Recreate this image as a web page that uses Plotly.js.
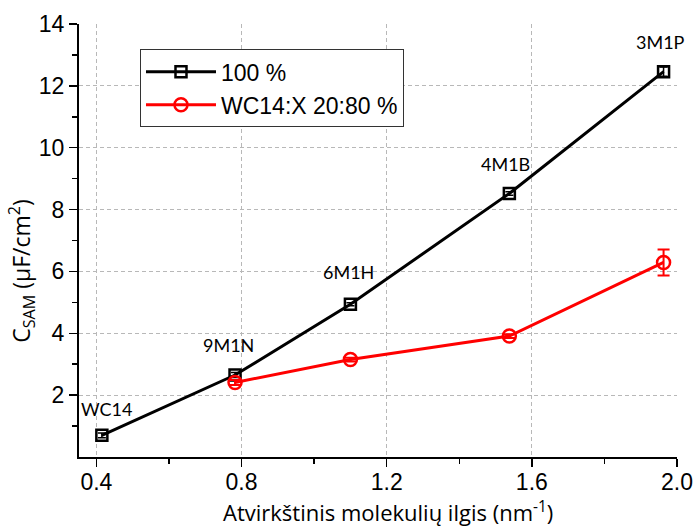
<!DOCTYPE html>
<html>
<head>
<meta charset="utf-8">
<script src="https://cdn.plot.ly/plotly-3.0.1.min.js"></script>
<style>html,body{margin:0;padding:0;background:#fff;}#chart{width:695px;height:528px;}</style>
</head>
<body>
<div id="chart"></div>
<script>
// Data
const xPure = [0.415, 0.782, 1.100, 1.538, 1.963];
const yPure = [0.70, 2.65, 4.94, 8.52, 12.46];
const errPure = [0.08, 0.08, 0.05, 0.06, 0.15];

const xMix = [0.782, 1.100, 1.538, 1.963];
const yMix = [2.41, 3.15, 3.91, 6.29];
const errMix = [0.08, 0.06, 0.06, 0.42];

const pointLabels = ["WC14", "9M1N", "6M1H", "4M1B", "3M1P"];
const labelX = [0.428, 0.765, 1.094, 1.526, 1.955];
const labelY = [1.55, 3.62, 5.98, 9.48, 13.42];

const seriesNames = ["100 %", "WC14:X 20:80 %"];
const yTitle = "C<sub>SAM</sub> (μF/cm<sup>2</sup>)";
const xTitle = "Atvirkštinis molekulių ilgis (nm<sup>-1</sup>)";
const yTickVals = [2, 4, 6, 8, 10, 12, 14];
const yGridVals = [2, 4, 6, 8, 10, 12];
const xTickVals = [0.4, 0.8, 1.2, 1.6, 2.0];
const xTickText = ["0.4", "0.8", "1.2", "1.6", "2.0"];
const xGridVals = [0.4, 0.8, 1.2, 1.6];
const xMinorVals = [0.6, 1.0, 1.4, 1.8];
const yMinorVals = [1, 3, 5, 7, 9, 11, 13];
const xRange = [0.352, 2.0];
const yRange = [0, 14];

const tickFont = {family: "Liberation Sans, Arial, sans-serif", size: 23, color: "#000"};
const labelFont = {family: "Lato, Open Sans, sans-serif", size: 18, color: "#000"};
const gridStyle = {gridcolor: "#b8b8b8", griddash: "4px,3px", gridwidth: 1};

const traces = [
  {
    x: [], y: [], xaxis: "x2", yaxis: "y2", type: "scatter", mode: "markers",
    showlegend: false, hoverinfo: "skip"
  },
  {
    x: xPure, y: yPure, name: seriesNames[0], type: "scatter", mode: "lines+markers",
    line: {color: "#000", width: 3},
    marker: {symbol: "square-open", size: 11, color: "#000", line: {width: 2.5, color: "#000"}},
    error_y: {type: "data", array: errPure, visible: true, color: "#000", thickness: 1.5, width: 4}
  },
  {
    x: xMix, y: yMix, name: seriesNames[1], type: "scatter", mode: "lines+markers",
    line: {color: "#ff0000", width: 3},
    marker: {symbol: "circle-open", size: 13, color: "#ff0000", line: {width: 2.5, color: "#ff0000"}},
    error_y: {type: "data", array: errMix, visible: true, color: "#ff0000", thickness: 2, width: 6}
  }
];

const annotations = pointLabels.map((t, i) => ({
  x: labelX[i], y: labelY[i], xref: "x", yref: "y", text: t, showarrow: false,
  font: labelFont, xanchor: "center", yanchor: "middle"
}));
annotations.push({
  x: -0.097, y: 0.43, xref: "paper", yref: "paper", text: yTitle, showarrow: false,
  textangle: -90, font: {family: "Open Sans, Lato, sans-serif", size: 23, color: "#000"},
  xanchor: "center", yanchor: "middle"
});
annotations.push({
  x: 0.517, y: -0.125, xref: "paper", yref: "paper", text: xTitle, showarrow: false,
  font: {family: "Open Sans, Lato, sans-serif", size: 22, color: "#000"},
  xanchor: "center", yanchor: "middle"
});

const layout = {
  width: 695, height: 528,
  margin: {l: 79, r: 18, t: 24, b: 71},
  paper_bgcolor: "#fff", plot_bgcolor: "#fff",
  showlegend: true,
  legend: {
    x: 0.102, y: 0.9415, xanchor: "left", yanchor: "top",
    bgcolor: "#fff", bordercolor: "#333", borderwidth: 1,
    font: {family: "Liberation Sans, Arial, sans-serif", size: 23, color: "#000"},
    tracegroupgap: 0, itemwidth: 70
  },
  xaxis: {
    range: xRange,
    tickvals: xTickVals, ticktext: xTickText,
    ticks: "outside", ticklen: 8, tickwidth: 1.5, tickcolor: "#000",
    showline: true, linecolor: "#000", linewidth: 2,
    showgrid: false, zeroline: false, tickfont: tickFont, ticklabelstandoff: -5,
    minor: {tickvals: xMinorVals, ticks: "outside", ticklen: 5, tickwidth: 1.5, tickcolor: "#000", showgrid: false}
  },
  yaxis: {
    range: yRange,
    tickvals: yTickVals,
    ticks: "outside", ticklen: 8, tickwidth: 1.5, tickcolor: "#000",
    showline: true, linecolor: "#000", linewidth: 2,
    showgrid: false, zeroline: false, tickfont: tickFont,
    minor: {tickvals: yMinorVals, ticks: "outside", ticklen: 5, tickwidth: 1.5, tickcolor: "#000", showgrid: false}
  },
  xaxis2: Object.assign({
    overlaying: "x", anchor: "y", range: xRange, tickvals: xGridVals,
    showticklabels: false, ticks: "", showline: false, zeroline: false, showgrid: true
  }, gridStyle),
  yaxis2: Object.assign({
    overlaying: "y", anchor: "x", range: yRange, tickvals: yGridVals,
    showticklabels: false, ticks: "", showline: false, zeroline: false, showgrid: true
  }, gridStyle),
  annotations: annotations
};

Plotly.newPlot("chart", traces, layout, {displayModeBar: false, staticPlot: true});
</script>
</body>
</html>
